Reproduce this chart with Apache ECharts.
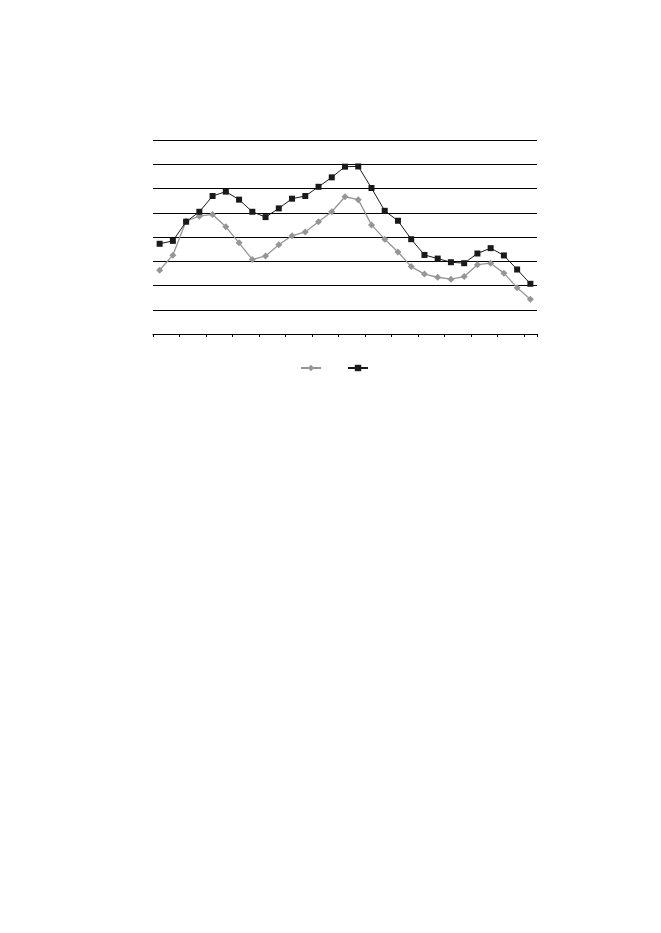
<!DOCTYPE html>
<html>
<head>
<meta charset="utf-8">
<script src="https://cdn.jsdelivr.net/npm/echarts@6/dist/echarts.min.js"></script>
<style>
  html, body { margin: 0; padding: 0; background: #fff; }
  #main { width: 661px; height: 933px; }
</style>
</head>
<body>
<div id="main"></div>
<script>
// 29 categories, no labels shown in the original
var categories = []
for (var i = 1; i <= 29; i++) categories.push(String(i))

var grayValues = [2.63, 3.25, 4.66, 4.86, 4.93, 4.42, 3.76, 3.07, 3.22, 3.68, 4.05, 4.21, 4.63, 5.04, 5.66,
  5.54, 4.50, 3.91, 3.38, 2.78, 2.47, 2.34, 2.26, 2.37, 2.86, 2.92, 2.51, 1.91, 1.43]
var blackValues = [3.72, 3.84, 4.63, 5.04, 5.69, 5.87, 5.54, 5.04, 4.82, 5.18, 5.58, 5.69, 6.07, 6.46, 6.90,
  6.91, 6.02, 5.08, 4.67, 3.91, 3.26, 3.11, 2.96, 2.92, 3.32, 3.54, 3.24, 2.66, 2.07]

let myChart = echarts.init(document.getElementById('main'))

var option = {
  backgroundColor: '#fff',
  animation: false,
  grid: { left: 153, right: 124, top: 140, bottom: 599 },
  legend: {
    top: 359,
    left: 295,
    itemWidth: 20,
    itemHeight: 8,
    itemGap: 25,
    formatter: function () { return '' },
    data: ['A', 'B']
  },
  xAxis: {
    type: 'category',
    data: categories,
    boundaryGap: true,
    axisLine: { lineStyle: { color: '#000', width: 1 } },
    axisTick: { show: true, length: 3, lineStyle: { color: '#000' } },
    axisLabel: { show: false }
  },
  yAxis: {
    type: 'value',
    min: 0,
    max: 8,
    interval: 1,
    axisLine: { show: false },
    axisTick: { show: false },
    axisLabel: { show: false },
    splitLine: { lineStyle: { color: '#000', width: 1 } }
  },
  series: [
    {
      name: 'A',
      type: 'line',
      data: grayValues,
      symbol: 'diamond',
      symbolSize: 7,
      color: '#969696',
      lineStyle: { color: '#969696', width: 1.3 },
      itemStyle: { color: '#969696' }
    },
    {
      name: 'B',
      type: 'line',
      data: blackValues,
      symbol: 'rect',
      symbolSize: 6,
      color: '#1a1a1a',
      lineStyle: { color: '#1a1a1a', width: 1 },
      itemStyle: { color: '#1a1a1a' }
    }
  ]
}

myChart.setOption(option)
</script>
</body>
</html>
